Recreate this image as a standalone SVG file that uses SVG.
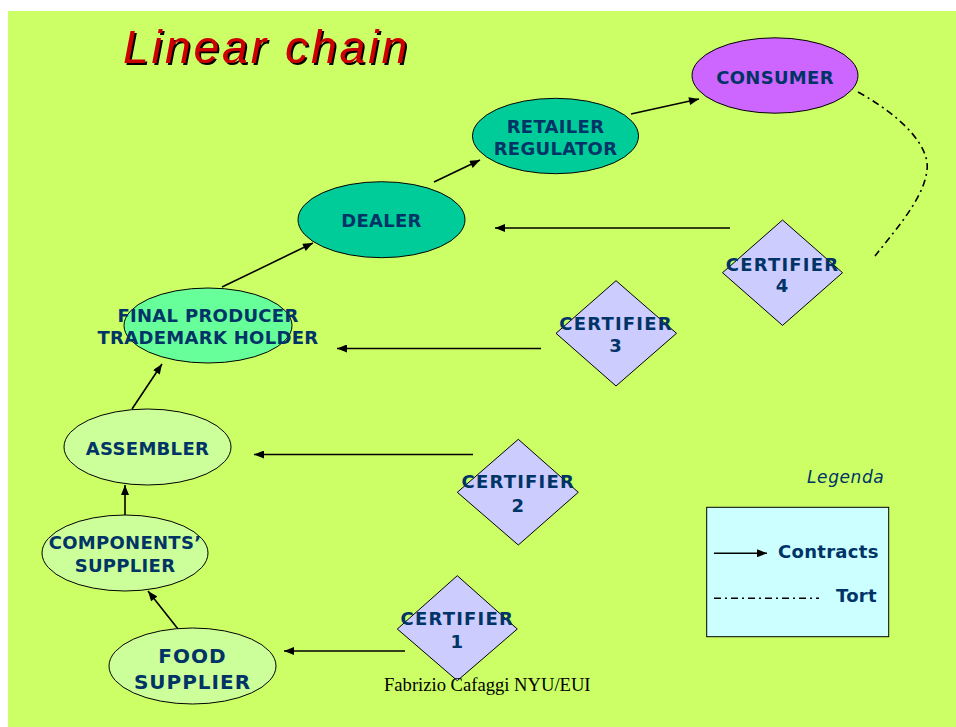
<svg xmlns="http://www.w3.org/2000/svg" width="956" height="727" viewBox="0 0 956 727">
<defs>
<marker id="arr" viewBox="0 0 10 8" refX="10" refY="4" markerWidth="11" markerHeight="8" markerUnits="userSpaceOnUse" orient="auto">
<path d="M0,0 L10,4 L0,8 Z" fill="#000"/>
</marker>
<filter id="shadow" x="-5%" y="-20%" width="110%" height="140%">
<feDropShadow dx="2" dy="2" stdDeviation="0" flood-color="#000" flood-opacity="1"/>
</filter>
</defs>
<style>
.lbl{font-family:"DejaVu Sans",Verdana,sans-serif;font-weight:bold;font-size:18px;fill:#003366;text-anchor:middle;letter-spacing:0.3px}
.cert{letter-spacing:1.2px}
.big{font-size:20px;letter-spacing:1px}
.el{stroke:#000;stroke-width:1}
.dm{fill:#ccccff;stroke:#000;stroke-width:1}
.con{stroke:#000;stroke-width:1.6;fill:none;marker-end:url(#arr)}
.tort{stroke:#000;stroke-width:1.6;fill:none;stroke-dasharray:7 4 2 4}
</style>
<rect x="0" y="0" width="956" height="727" fill="#ffffff"/>
<rect x="8" y="11" width="948" height="716" fill="#ccff66"/>
<g id="title">
<text x="123" y="63" font-family="Liberation Sans,Arial,sans-serif" font-style="italic" font-size="46" textLength="284" fill="#cc0000" filter="url(#shadow)">Linear chain</text>
</g>
<g id="connectors">
<line class="con" x1="631" y1="114" x2="699" y2="99"/>
<line class="con" x1="434" y1="182" x2="480" y2="160"/>
<line class="con" x1="222" y1="287" x2="313" y2="243"/>
<line class="con" x1="132" y1="409" x2="162" y2="364"/>
<line class="con" x1="125" y1="515" x2="125" y2="485"/>
<line class="con" x1="178" y1="629" x2="148" y2="591"/>
<line class="con" x1="730" y1="228" x2="495" y2="228"/>
<line class="con" x1="541" y1="348.5" x2="337" y2="348.5"/>
<line class="con" x1="473" y1="454.5" x2="254" y2="454.5"/>
<line class="con" x1="405" y1="651" x2="284" y2="651"/>
<path class="tort" d="M858,92 C905,118 930,148 927,170 C924,198 897,228 875,256"/>
</g>
<g id="consumer">
<ellipse class="el" cx="775" cy="75.5" rx="83" ry="37.7" fill="#cc66ff"/>
<text class="lbl" x="775" y="84">CONSUMER</text>
</g>
<g id="retailer">
<ellipse class="el" cx="555.5" cy="136" rx="83" ry="37.7" fill="#00cc99"/>
<text class="lbl" x="555.5" y="133">RETAILER</text>
<text class="lbl" x="555.5" y="155">REGULATOR</text>
</g>
<g id="dealer">
<ellipse class="el" cx="381.5" cy="219.7" rx="83.5" ry="38" fill="#00cc99"/>
<text class="lbl" x="381.5" y="227">DEALER</text>
</g>
<g id="final-producer">
<ellipse class="el" cx="208" cy="325.5" rx="84" ry="37.5" fill="#66ff99"/>
<text class="lbl" x="208" y="322">FINAL PRODUCER</text>
<text class="lbl" x="208" y="344">TRADEMARK HOLDER</text>
</g>
<g id="assembler">
<ellipse class="el" cx="147.5" cy="447" rx="83.5" ry="38" fill="#ccff99"/>
<text class="lbl" x="147.5" y="454.5">ASSEMBLER</text>
</g>
<g id="components-supplier">
<ellipse class="el" cx="125" cy="553" rx="83" ry="38" fill="#ccff99"/>
<text class="lbl" x="125" y="549">COMPONENTS’</text>
<text class="lbl" x="125" y="571.5">SUPPLIER</text>
</g>
<g id="food-supplier">
<ellipse class="el" cx="192.5" cy="666" rx="83.5" ry="38" fill="#ccff99"/>
<text class="lbl big" x="192.5" y="663">FOOD</text>
<text class="lbl big" x="192.5" y="689">SUPPLIER</text>
</g>
<g id="certifier-4">
<polygon class="dm" points="782.5,220 842.5,272.7 782.5,325.4 722.5,272.7"/>
<text class="lbl cert" x="782.5" y="270.7">CERTIFIER</text>
<text class="lbl cert" x="782.5" y="291.7">4</text>
</g>
<g id="certifier-3">
<polygon class="dm" points="616,280.7 676.5,333.3 616,386 556,333.3"/>
<text class="lbl cert" x="616" y="330">CERTIFIER</text>
<text class="lbl cert" x="616" y="351.7">3</text>
</g>
<g id="certifier-2">
<polygon class="dm" points="518.3,439.3 578.3,492.3 518.3,545 457.3,492.3"/>
<text class="lbl cert" x="518.3" y="488.3">CERTIFIER</text>
<text class="lbl cert" x="518.3" y="511.7">2</text>
</g>
<g id="certifier-1">
<polygon class="dm" points="457.3,575.7 517.3,629 457.3,680.7 397.3,629"/>
<text class="lbl cert" x="457.3" y="625">CERTIFIER</text>
<text class="lbl cert" x="457.3" y="647.7">1</text>
</g>
<g id="legend">
<text x="807" y="483" font-family="DejaVu Sans,Verdana,sans-serif" font-style="italic" font-size="17" letter-spacing="0.6" fill="#003366">Legenda</text>
<rect x="706.7" y="507.3" width="182" height="129.4" fill="#ccffff" stroke="#000" stroke-width="1"/>
<line class="con" x1="714" y1="553.3" x2="767" y2="553.3"/>
<text class="lbl" x="778" y="558.3" style="text-anchor:start">Contracts</text>
<line class="tort" x1="714" y1="598.3" x2="819" y2="598.3"/>
<text class="lbl" x="836" y="601.7" style="text-anchor:start">Tort</text>
</g>
<text x="384" y="690.7" font-family="Liberation Serif,Times New Roman,serif" font-size="18.6" fill="#000">Fabrizio Cafaggi NYU/EUI</text>
</svg>
